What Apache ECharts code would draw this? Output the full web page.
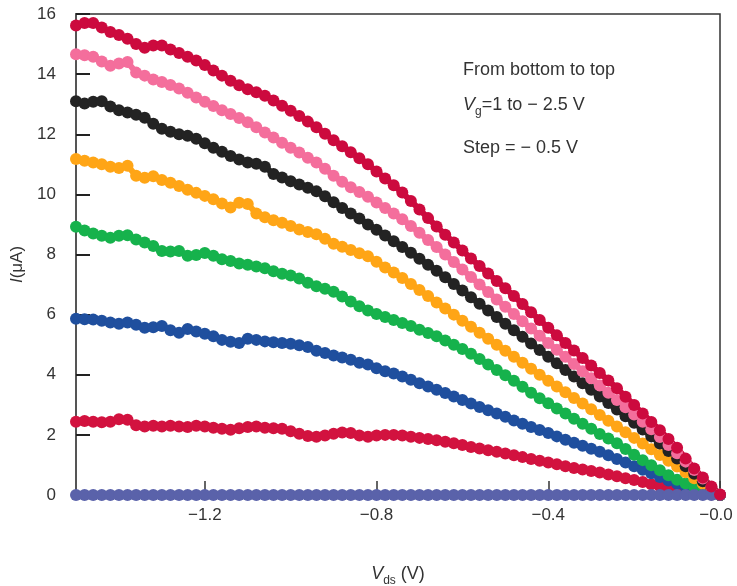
<!DOCTYPE html>
<html>
<head>
<meta charset="utf-8">
<script src="https://cdn.jsdelivr.net/npm/echarts@6/dist/echarts.min.js"></script>
<style>
  html, body { margin: 0; padding: 0; background: #fff; }
  #chart { width: 737px; height: 586px; }
</style>
</head>
<body>
<div id="chart"></div>
<script>
// drain voltage sweep (V)
const vds = [
  -1.50, -1.48, -1.46, -1.44, -1.42, -1.40, -1.38, -1.36, -1.34, -1.32,
  -1.30, -1.28, -1.26, -1.24, -1.22, -1.20, -1.18, -1.16, -1.14, -1.12,
  -1.10, -1.08, -1.06, -1.04, -1.02, -1.00, -0.98, -0.96, -0.94, -0.92,
  -0.90, -0.88, -0.86, -0.84, -0.82, -0.80, -0.78, -0.76, -0.74, -0.72,
  -0.70, -0.68, -0.66, -0.64, -0.62, -0.60, -0.58, -0.56, -0.54, -0.52,
  -0.50, -0.48, -0.46, -0.44, -0.42, -0.40, -0.38, -0.36, -0.34, -0.32,
  -0.30, -0.28, -0.26, -0.24, -0.22, -0.20, -0.18, -0.16, -0.14, -0.12,
  -0.10, -0.08, -0.06, -0.04, -0.02, 0.00
];

// current (uA) for each gate voltage
const iVg1 = [
  0, 0, 0, 0, 0, 0, 0, 0, 0, 0,
  0, 0, 0, 0, 0, 0, 0, 0, 0, 0,
  0, 0, 0, 0, 0, 0, 0, 0, 0, 0,
  0, 0, 0, 0, 0, 0, 0, 0, 0, 0,
  0, 0, 0, 0, 0, 0, 0, 0, 0, 0,
  0, 0, 0, 0, 0, 0, 0, 0, 0, 0,
  0, 0, 0, 0, 0, 0, 0, 0, 0, 0,
  0, 0, 0, 0, 0, 0
];
const iVg05 = [
  2.44, 2.46, 2.44, 2.42, 2.44, 2.52, 2.50, 2.32, 2.28, 2.30,
  2.28, 2.30, 2.28, 2.26, 2.30, 2.28, 2.24, 2.20, 2.17, 2.22,
  2.26, 2.28, 2.24, 2.22, 2.20, 2.12, 2.04, 1.96, 1.94, 1.98,
  2.04, 2.08, 2.06, 1.98, 1.94, 1.98, 2.00, 2.00, 1.98, 1.94,
  1.90, 1.86, 1.82, 1.77, 1.72, 1.66, 1.60, 1.55, 1.49, 1.44,
  1.38, 1.32, 1.26, 1.20, 1.14, 1.08, 1.02, 0.96, 0.90, 0.85,
  0.80, 0.75, 0.68, 0.62, 0.56, 0.50, 0.43, 0.36, 0.29, 0.22,
  0.16, 0.11, 0.07, 0.04, 0.02, 0.00
];
const iVg0 = [
  5.86, 5.85, 5.84, 5.80, 5.74, 5.70, 5.74, 5.66, 5.56, 5.58,
  5.62, 5.48, 5.40, 5.52, 5.44, 5.36, 5.28, 5.16, 5.10, 5.06,
  5.20, 5.16, 5.11, 5.08, 5.06, 5.03, 4.98, 4.92, 4.80, 4.72,
  4.64, 4.57, 4.50, 4.40, 4.34, 4.22, 4.12, 4.04, 3.94, 3.83,
  3.72, 3.61, 3.50, 3.39, 3.28, 3.16, 3.04, 2.93, 2.82, 2.71,
  2.60, 2.48, 2.37, 2.26, 2.16, 2.06, 1.95, 1.84, 1.74, 1.64,
  1.54, 1.44, 1.32, 1.20, 1.08, 0.96, 0.84, 0.72, 0.60, 0.48,
  0.37, 0.27, 0.18, 0.10, 0.04, 0.00
];
const iVgm05 = [
  8.92, 8.80, 8.70, 8.62, 8.56, 8.62, 8.64, 8.50, 8.40, 8.28,
  8.12, 8.10, 8.12, 7.96, 7.98, 8.05, 7.96, 7.84, 7.78, 7.70,
  7.66, 7.60, 7.54, 7.44, 7.36, 7.30, 7.20, 7.06, 6.94, 6.86,
  6.76, 6.60, 6.44, 6.28, 6.14, 6.02, 5.92, 5.82, 5.72, 5.62,
  5.50, 5.39, 5.28, 5.14, 5.00, 4.86, 4.70, 4.52, 4.34, 4.16,
  3.98, 3.80, 3.60, 3.40, 3.22, 3.05, 2.88, 2.71, 2.54, 2.37,
  2.20, 2.03, 1.88, 1.72, 1.53, 1.34, 1.16, 0.99, 0.82, 0.66,
  0.51, 0.38, 0.26, 0.15, 0.06, 0.00
];
const iVgm1 = [
  11.18, 11.12, 11.06, 11.00, 10.92, 10.88, 10.95, 10.62, 10.55, 10.60,
  10.48, 10.39, 10.28, 10.15, 10.05, 9.95, 9.84, 9.70, 9.56, 9.72,
  9.68, 9.36, 9.24, 9.14, 9.06, 8.95, 8.83, 8.75, 8.67, 8.52,
  8.36, 8.26, 8.15, 8.04, 7.94, 7.76, 7.57, 7.40, 7.22, 7.02,
  6.82, 6.62, 6.40, 6.20, 6.00, 5.80, 5.60, 5.40, 5.20, 5.00,
  4.80, 4.60, 4.40, 4.20, 4.00, 3.80, 3.61, 3.42, 3.23, 3.04,
  2.85, 2.66, 2.47, 2.28, 2.09, 1.90, 1.71, 1.52, 1.33, 1.14,
  0.95, 0.76, 0.56, 0.37, 0.18, 0.00
];
const iVgm15 = [
  13.10, 13.02, 13.08, 13.10, 12.92, 12.80, 12.72, 12.65, 12.55, 12.35,
  12.18, 12.08, 12.00, 11.95, 11.85, 11.70, 11.55, 11.42, 11.28, 11.16,
  11.06, 11.02, 10.92, 10.68, 10.56, 10.44, 10.33, 10.22, 10.10, 9.94,
  9.74, 9.55, 9.36, 9.20, 9.00, 8.82, 8.63, 8.44, 8.25, 8.06,
  7.86, 7.66, 7.46, 7.24, 7.02, 6.80, 6.58, 6.36, 6.14, 5.92,
  5.70, 5.48, 5.26, 5.04, 4.82, 4.60, 4.38, 4.16, 3.94, 3.72,
  3.50, 3.28, 3.06, 2.84, 2.62, 2.40, 2.18, 1.95, 1.71, 1.46,
  1.21, 0.96, 0.71, 0.46, 0.22, 0.00
];
const iVgm2 = [
  14.66, 14.63, 14.58, 14.42, 14.28, 14.35, 14.40, 14.05, 13.95, 13.82,
  13.74, 13.64, 13.52, 13.38, 13.22, 13.08, 12.94, 12.80, 12.67, 12.54,
  12.40, 12.23, 12.06, 11.89, 11.72, 11.55, 11.39, 11.22, 11.06, 10.85,
  10.62, 10.42, 10.24, 10.08, 9.92, 9.73, 9.55, 9.36, 9.17, 8.95,
  8.72, 8.48, 8.25, 8.00, 7.75, 7.50, 7.25, 7.00, 6.75, 6.50,
  6.26, 6.02, 5.78, 5.54, 5.30, 5.06, 4.83, 4.60, 4.36, 4.12,
  3.88, 3.64, 3.40, 3.16, 2.92, 2.68, 2.44, 2.19, 1.93, 1.66,
  1.39, 1.11, 0.83, 0.55, 0.26, 0.02
];
const iVgm25 = [
  15.62, 15.70, 15.70, 15.55, 15.40, 15.30, 15.18, 15.00, 14.88, 14.95,
  14.95, 14.82, 14.70, 14.58, 14.45, 14.30, 14.12, 13.95, 13.78, 13.63,
  13.50, 13.40, 13.28, 13.12, 12.95, 12.78, 12.61, 12.42, 12.23, 12.02,
  11.80, 11.60, 11.40, 11.20, 11.00, 10.76, 10.53, 10.30, 10.06, 9.78,
  9.50, 9.21, 8.93, 8.66, 8.40, 8.13, 7.87, 7.62, 7.37, 7.12,
  6.88, 6.62, 6.35, 6.08, 5.82, 5.56, 5.31, 5.06, 4.81, 4.56,
  4.31, 4.06, 3.81, 3.55, 3.27, 2.99, 2.71, 2.43, 2.15, 1.86,
  1.57, 1.21, 0.88, 0.58, 0.28, 0.02
];

// axis ticks
const xTicks = [-1.2, -0.8, -0.4, 0];

const textFont = "'Liberation Sans', Arial, sans-serif";

// draw order: lower curves first, top red last
const curves = [
  { name: "Vg=0.5", data: iVg05, color: "#d2123f" },
  { name: "Vg=0", data: iVg0, color: "#1f4f9e" },
  { name: "Vg=-0.5", data: iVgm05, color: "#16b24c" },
  { name: "Vg=-1", data: iVgm1, color: "#ffa516" },
  { name: "Vg=-1.5", data: iVgm15, color: "#232323" },
  { name: "Vg=-2", data: iVgm2, color: "#f46e9c" },
  { name: "Vg=1", data: iVg1, color: "#5a62aa" },
  { name: "Vg=-2.5", data: iVgm25, color: "#cc0a3e" },
];

const chart = echarts.init(document.getElementById("chart"));

chart.setOption({
  animation: false,
  backgroundColor: "#fff",
  grid: {
    left: 76,
    right: 17,
    top: 14,
    bottom: 91,
    containLabel: false,
    outerBoundsMode: "none",
    show: true,
    borderColor: "#333",
    borderWidth: 1.5,
  },
  xAxis: {
    type: "value",
    min: -1.5,
    max: 0,
    name: "{i|V}{s|ds}{n| (V)}",
    nameLocation: "middle",
    nameGap: 66,
    nameTextStyle: {
      rich: {
        i: { fontFamily: textFont, fontSize: 18, fontStyle: "italic", color: "#333", lineHeight: 26 },
        s: { fontFamily: textFont, fontSize: 12, color: "#333", verticalAlign: "bottom", lineHeight: 26 },
        n: { fontFamily: textFont, fontSize: 18, color: "#333", lineHeight: 26 },
      },
    },
    axisLine: { show: true, onZero: false, lineStyle: { color: "#555", width: 1.5 } },
    axisTick: {
      show: true,
      inside: true,
      length: 14,
      customValues: xTicks,
      lineStyle: { color: "#333", width: 1.5 },
    },
    axisLabel: {
      customValues: xTicks,
      margin: 12,
      fontFamily: textFont,
      fontSize: 17,
      color: "#333",
      formatter: (v) => (v === 0 ? "{e|\u22120.0}" : "\u2212" + Math.abs(v).toFixed(1)),
      rich: {
        e: { fontFamily: textFont, fontSize: 17, color: "#333", padding: [0, 8, 0, 0] },
      },
    },
    splitLine: { show: false },
  },
  yAxis: {
    type: "value",
    min: 0,
    max: 16,
    interval: 2,
    name: "{i|I}{n|(\u03bcA)}",
    nameLocation: "middle",
    nameRotate: 90,
    nameGap: 38,
    nameTextStyle: {
      padding: [0, 20, 0, 0],
      rich: {
        i: { fontFamily: textFont, fontSize: 17, fontStyle: "italic", color: "#333" },
        n: { fontFamily: textFont, fontSize: 17, color: "#333" },
      },
    },
    axisLine: { show: true, onZero: false, lineStyle: { color: "#555", width: 2 } },
    axisTick: {
      show: true,
      inside: true,
      length: 14,
      lineStyle: { color: "#222", width: 2 },
    },
    axisLabel: {
      margin: 20,
      fontFamily: textFont,
      fontSize: 17,
      color: "#333",
    },
    splitLine: { show: false },
  },
  graphic: [
    {
      type: "text",
      left: 463,
      top: 61,
      style: { text: "From bottom to top", font: "18px " + textFont, fill: "#333" },
    },
    {
      type: "text",
      left: 463,
      top: 96,
      style: {
        text: "{i|V}{s|g}{n|=1 to \u2212 2.5 V}",
        fill: "#333",
        rich: {
          i: { font: "italic 18px " + textFont, fill: "#333", lineHeight: 26 },
          s: { font: "12px " + textFont, fill: "#333", verticalAlign: "bottom", lineHeight: 26 },
          n: { font: "18px " + textFont, fill: "#333", lineHeight: 26 },
        },
      },
    },
    {
      type: "text",
      left: 463,
      top: 139,
      style: { text: "Step = \u2212 0.5 V", font: "18px " + textFont, fill: "#333" },
    },
  ],
  series: curves.map((c) => ({
    name: c.name,
    type: "line",
    data: vds.map((v, k) => [v, c.data[k]]),
    symbol: "circle",
    symbolSize: 12,
    showSymbol: true,
    showAllSymbol: true,
    clip: false,
    itemStyle: { color: c.color },
    lineStyle: { color: c.color, width: 6 },
    emphasis: { disabled: true },
  })),
});
</script>
</body>
</html>
